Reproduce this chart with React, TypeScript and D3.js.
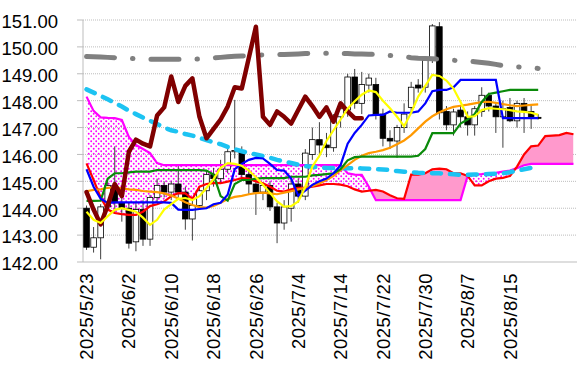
import React from 'react';
import * as d3 from 'd3';

const W = 586;
const H = 376;
const PL = 83, PR = 577, PT = 20, PB = 262;
const N_CATS = 70;

const yTicks = [142, 143, 144, 145, 146, 147, 148, 149, 150, 151];
const tickLabels = ['2025/5/23', '2025/6/2', '2025/6/10', '2025/6/18', '2025/6/26', '2025/7/4', '2025/7/14', '2025/7/22', '2025/7/30', '2025/8/7', '2025/8/15'];
const tickIdx = [0, 6, 12, 18, 24, 30, 36, 42, 48, 54, 60];

const opens = [144.0, 142.55, 142.9, 144.05, 144.85, 144.2, 144.0, 142.75, 143.95, 142.85,
  144.4, 144.85, 144.6, 144.9, 144.6, 143.6, 144.1, 144.65, 145.25, 145.1,
  145.45, 146.1, 146.15, 145.25, 144.9, 144.6, 144.85, 144.05, 143.45, 144.0,
  144.9, 144.45, 146.0, 146.55, 146.35, 146.25, 147.4, 147.65, 148.88, 147.9,
  148.58, 148.6, 147.5, 146.6, 146.5, 147.0, 147.75, 148.58, 148.5, 149.5,
  150.75, 147.6, 147.1, 147.65, 147.4, 147.1, 147.6, 148.2, 147.8, 147.4,
  147.75, 147.25, 147.9, 147.6, 147.38];
const highs = [144.1, 143.3, 144.15, 145.0, 146.3, 144.5, 144.2, 144.2, 144.3, 144.5,
  145.1, 145.0, 145.0, 145.6, 144.8, 144.3, 144.8, 145.4, 145.5, 145.8,
  146.2, 148.03, 146.3, 145.45, 145.1, 144.95, 145.0, 144.2, 144.3, 145.2,
  145.1, 146.2, 147.0, 147.2, 146.8, 147.5, 147.9, 149.0, 149.18, 149.07,
  149.0, 148.85, 147.7, 146.9, 147.1, 147.9, 148.7, 148.8, 149.6, 150.85,
  150.92, 147.8, 147.7, 147.8, 147.6, 147.8, 148.5, 148.3, 147.9, 148.0,
  148.1, 148.0, 148.1, 147.8, 147.5];
const lows = [142.45, 142.35, 142.1, 143.9, 143.8, 143.5, 142.5, 142.4, 142.6, 142.6,
  144.2, 144.4, 144.3, 144.4, 143.2, 142.8, 143.95, 144.3, 144.8, 144.9,
  145.3, 145.85, 145.1, 144.5, 143.75, 144.3, 143.9, 142.7, 143.2, 143.5,
  144.2, 144.3, 145.8, 145.9, 145.9, 146.1, 147.0, 147.4, 147.7, 147.5,
  148.3, 147.3, 146.3, 146.2, 145.87, 146.8, 147.5, 148.3, 148.3, 149.4,
  147.3, 146.9, 146.7, 147.0, 146.7, 146.7, 147.4, 147.6, 146.8, 146.25,
  147.2, 147.0, 146.8, 146.95, 147.3];
const closes = [142.55, 142.9, 144.05, 144.85, 144.2, 144.0, 142.7, 143.95, 142.85, 144.4,
  144.85, 144.6, 144.9, 144.6, 143.6, 144.1, 144.65, 145.25, 145.1, 145.45,
  146.1, 146.15, 145.25, 144.9, 144.6, 144.85, 144.05, 143.45, 144.05, 144.9,
  144.45, 146.05, 146.55, 146.35, 146.25, 147.4, 147.7, 148.88, 147.9, 148.6,
  148.84, 147.45, 146.6, 146.5, 147.0, 147.5, 148.5, 148.47, 149.5, 150.78,
  147.55, 147.1, 147.58, 147.4, 147.1, 147.7, 148.2, 147.8, 147.4, 147.7,
  147.25, 147.9, 147.6, 147.38, 147.35];

const yellowLine = [143.87, 143.57, 143.45, 143.7, 143.94, 144.0, 143.94, 143.87, 143.65, 143.38,
  143.57, 143.95, 144.15, 144.35, 144.38, 144.3, 144.45, 144.75, 145.08, 145.5,
  145.68, 145.65, 145.58, 145.4, 145.15, 144.87, 144.57, 144.25, 144.06, 144.08,
  144.25, 144.8, 145.55, 145.95, 146.5, 146.9, 147.3, 147.7, 147.98, 148.22,
  148.38, 148.32, 148.0, 147.72, 147.4, 147.05, 147.55, 148.15, 148.55, 148.96,
  148.92, 148.75, 148.45, 147.95, 147.4, 147.42, 147.65, 147.72, 147.7, 147.68,
  147.65, 147.6, 147.58, 147.55, 147.47];
const blueLine = [145.45, 144.8, 144.35, 144.2, 144.22, 144.22, 144.22, 144.22, 144.22, 144.22,
  144.22, 144.22, 144.2, 143.95, 143.94, 143.94, 143.97, 144.0, 144.15, 144.2,
  144.5, 145.45, 145.65, 145.8, 145.87, 145.85, 145.65, 145.42, 145.4, 145.1,
  144.47, 144.65, 144.87, 145.0, 145.1, 145.3, 145.6, 146.4, 146.8, 147.1,
  147.45, 147.47, 147.47, 147.6, 147.55, 147.55, 147.55, 147.6, 147.9, 148.35,
  148.4, 148.4, 148.5, 148.77, 148.77, 148.77, 148.77, 148.77, 148.77, 147.35,
  147.35, 147.35, 147.35, 147.35, 147.35];
const greenLine = [144.27, 144.27, 144.28, 145.1, 145.3, 145.3, 145.33, 145.36, 145.36, 145.36,
  145.42, 145.42, 145.42, 145.42, 145.42, 145.42, 145.42, 145.4, 145.25, 144.45,
  144.28, 144.9, 145.05, 145.05, 145.1, 145.12, 145.12, 145.12, 145.12, 145.17,
  145.17, 145.17, 145.22, 145.24, 145.27, 145.3, 145.45, 145.78, 145.9, 145.92,
  145.92, 145.92, 145.92, 145.92, 145.92, 145.92, 145.92, 145.95, 146.2, 146.79,
  146.79, 146.79, 146.79, 147.15, 147.3, 147.5, 147.95, 148.25, 148.3, 148.35,
  148.4, 148.4, 148.4, 148.4, 148.4];
const orangeLine = [144.63, 144.68, 144.7, 144.76, 144.78, 144.74, 144.7, 144.68, 144.64, 144.62,
  144.6, 144.55, 144.47, 144.36, 144.22, 144.12, 144.04, 144.02, 144.08, 144.2,
  144.34, 144.42, 144.46, 144.52, 144.56, 144.58, 144.55, 144.52, 144.58, 144.63,
  144.7, 144.76, 144.83, 144.92, 145.05, 145.2, 145.42, 145.6, 145.8, 145.95,
  146.05, 146.1, 146.16, 146.25, 146.38, 146.52, 146.72, 146.97, 147.22, 147.42,
  147.57, 147.68, 147.77, 147.81, 147.85, 147.9, 147.95, 147.96, 147.92, 147.87,
  147.83, 147.8, 147.82, 147.84, 147.86];
const spanA = [145.67, 145.05, 144.4, 143.95, 143.82, 143.78, 143.75, 143.75, 143.87, 144.08,
  144.15, 144.25, 144.45, 144.56, 144.55, 144.35, 144.8, 144.9, 144.93, 144.93,
  144.99, 145.05, 145.12, 145.1, 145.0, 144.93, 144.8, 144.65, 144.62, 144.7,
  144.76, 144.76, 144.8, 144.85, 144.9, 144.9, 144.88, 144.82, 144.7, 144.62,
  144.65, 144.68, 144.62, 144.48, 144.37, 144.35, 145.25, 145.25, 145.3, 145.45,
  145.47, 145.45, 145.3, 145.3, 145.2, 144.85, 144.85, 145.0, 145.1, 145.13,
  145.2, 145.55, 146.0, 146.3, 146.33, 146.68, 146.7, 146.72, 146.8, 146.75];
const spanB = [148.15, 147.62, 147.38, 147.36, 147.35, 147.28, 146.65, 146.35, 146.2, 146.05,
  145.68, 145.6, 145.6, 145.6, 145.6, 145.6, 145.6, 145.6, 145.6, 145.6,
  145.6, 145.6, 145.6, 145.6, 145.6, 145.6, 145.6, 145.6, 145.6, 145.6,
  145.6, 145.6, 145.6, 145.6, 145.6, 145.6, 145.6, 145.3, 145.25, 145.24,
  144.8, 144.3, 144.3, 144.3, 144.3, 144.3, 144.3, 144.3, 144.3, 144.3,
  144.3, 144.3, 144.3, 144.3, 145.2, 145.25, 145.27, 145.3, 145.32, 145.36,
  145.4, 145.49, 145.6, 145.65, 145.65, 145.65, 145.65, 145.65, 145.65, 145.65];
const laggingLine = [144.6, 143.95, 143.4, 144.1, 144.9, 144.45, 146.1, 146.55, 146.4, 146.3,
  147.45, 147.75, 148.9, 147.95, 148.55, 148.83, 147.4, 146.6, 146.95, 147.3,
  147.78, 148.5, 148.45, 149.6, 150.75, 147.4, 147.1, 147.6, 147.4, 147.15,
  147.65, 148.15, 147.8, 147.4, 147.75, 147.22, 147.9, 147.6, 147.35, 147.35];
const cyanLine = [148.42, 148.3, 148.18, 148.05, 147.92, 147.78, 147.63, 147.5, 147.37, 147.25,
  147.13, 147.0, 146.9, 146.84, 146.76, 146.7, 146.62, 146.53, 146.45, 146.38,
  146.28, 146.2, 146.12, 146.06, 146.0, 145.94, 145.88, 145.8, 145.74, 145.68,
  145.62, 145.56, 145.54, 145.52, 145.5, 145.5, 145.49, 145.49, 145.49, 145.48,
  145.47, 145.45, 145.44, 145.42, 145.38, 145.36, 145.34, 145.32, 145.31, 145.3,
  145.3, 145.28, 145.26, 145.24, 145.24, 145.25, 145.26, 145.27, 145.28, 145.3,
  145.34, 145.4, 145.45, 145.5, 145.55];
const grayLine = [149.64, 149.63, 149.62, 149.61, 149.6, 149.58, 149.57, 149.56, 149.55, 149.54,
  149.54, 149.54, 149.54, 149.54, 149.54, 149.54, 149.55, 149.57, 149.59, 149.61,
  149.63, 149.65, 149.66, 149.67, 149.69, 149.7, 149.7, 149.71, 149.72, 149.73,
  149.74, 149.75, 149.76, 149.76, 149.76, 149.75, 149.75, 149.75, 149.74, 149.74,
  149.73, 149.72, 149.7, 149.68, 149.66, 149.63, 149.6, 149.58, 149.57, 149.56,
  149.54, 149.52, 149.5, 149.49, 149.47, 149.45, 149.42, 149.39, 149.35, 149.3,
  149.28, 149.26, 149.24, 149.22, 149.2];

const FONT = '"Liberation Sans", Arial, sans-serif';

export default function App() {
  const x = d3.scaleBand<number>().domain(d3.range(N_CATS)).range([PL, PR]).padding(0);
  const bw = x.bandwidth();
  const cx = (i: number) => (x(i) as number) + bw / 2;
  const y = d3.scaleLinear().domain([142, 151]).range([PB, PT]);

  const line = d3.line<number>().x((_, i) => cx(i)).y((d) => y(d));
  const between = d3.area<number>().x((_, i) => cx(i)).y0((_, i) => y(spanB[i])).y1((d) => y(d));
  const aboveB = d3.area<number>().x((_, i) => cx(i)).y0(PT - 10).y1((d) => y(d));
  const belowB = d3.area<number>().x((_, i) => cx(i)).y0(PB + 10).y1((d) => y(d));

  const bodyW = 5.6;

  return (
    <svg width={W} height={H} style={{ position: 'absolute', left: 0, top: 0, background: '#fff' }} xmlns="http://www.w3.org/2000/svg">
      <defs>
        <pattern id="dots" width="5" height="5" patternUnits="userSpaceOnUse">
          <circle cx="1.2" cy="1.2" r="0.95" fill="#ff00ff" />
          <circle cx="3.7" cy="3.7" r="0.95" fill="#ff00ff" />
        </pattern>
        <clipPath id="clipAbove"><path d={aboveB(spanB) || ''} /></clipPath>
        <clipPath id="clipBelow"><path d={belowB(spanB) || ''} /></clipPath>
      </defs>
      <rect x={0} y={0} width={W} height={H} fill="#fff" />

      {yTicks.map((t) => (
        <g key={t}>
          {t !== 142 && (
            <line x1={PL} x2={PR} y1={y(t)} y2={y(t)} stroke="#bdbdbd" strokeWidth={1} strokeDasharray="1 1" />
          )}
          <line x1={PL - 6} x2={PL} y1={y(t)} y2={y(t)} stroke="#bdbdbd" strokeWidth={1} />
          <text x={58} y={y(t) + 8.3} textAnchor="end" fontFamily={FONT} fontSize={18.5} fill="#000">
            {t.toFixed(2)}
          </text>
        </g>
      ))}
      <line x1={PL} x2={PL} y1={PT} y2={PB} stroke="#bdbdbd" strokeWidth={1} />
      <line x1={PL} x2={PR} y1={PB} y2={PB} stroke="#bdbdbd" strokeWidth={1} />

      <path d={between(spanA) || ''} fill="#ff99cc" clipPath="url(#clipAbove)" />
      <path d={between(spanA) || ''} fill="url(#dots)" clipPath="url(#clipBelow)" />

      {opens.map((o, i) => {
        const c = closes[i];
        const up = c >= o;
        const top = y(Math.max(o, c));
        const bot = y(Math.min(o, c));
        return (
          <g key={i}>
            <line x1={cx(i)} x2={cx(i)} y1={y(highs[i])} y2={y(lows[i])} stroke="#404040" strokeWidth={1} />
            <rect x={cx(i) - bodyW / 2} y={top} width={bodyW} height={Math.max(1, bot - top)}
              fill={up ? '#fff' : '#000'} stroke="#000" strokeWidth={0.8} />
          </g>
        );
      })}

      <path d={line(spanB) || ''} fill="none" stroke="#ff00ff" strokeWidth={2.2} />
      <path d={line(spanA) || ''} fill="none" stroke="#ff0000" strokeWidth={2.2} />
      <path d={line(grayLine) || ''} fill="none" stroke="#808080" strokeWidth={5} strokeLinecap="round" strokeDasharray="28 18 0.5 18" />
      <path d={line(cyanLine) || ''} fill="none" stroke="#1cc3f2" strokeWidth={4.5} strokeLinecap="round" strokeDasharray="9 9" />
      <path d={line(orangeLine) || ''} fill="none" stroke="#ff9900" strokeWidth={2.2} />
      <path d={line(greenLine) || ''} fill="none" stroke="#0a8a0a" strokeWidth={2.2} />
      <path d={line(blueLine) || ''} fill="none" stroke="#0000ff" strokeWidth={2.2} />
      <path d={line(laggingLine) || ''} fill="none" stroke="#800000" strokeWidth={4.5} strokeLinejoin="round" strokeLinecap="round" />
      <path d={line(yellowLine) || ''} fill="none" stroke="#ffff00" strokeWidth={2.2} />

      {tickIdx.map((ti, k) => (
        <text key={ti} transform={`translate(${cx(ti) + 6.6},${273}) rotate(-90)`} textAnchor="end"
          fontFamily={FONT} fontSize={18.5} letterSpacing={0.5} fill="#000">
          {tickLabels[k]}
        </text>
      ))}
    </svg>
  );
}
